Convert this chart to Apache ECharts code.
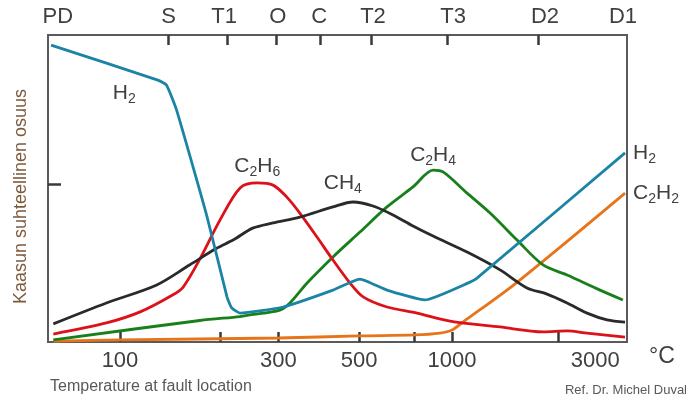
<!DOCTYPE html>
<html>
<head>
<meta charset="utf-8">
<script src="https://cdn.jsdelivr.net/npm/echarts@6/dist/echarts.min.js"></script>
<style>
html,body{margin:0;padding:0;background:#fff;}
#chart{width:693px;height:400px;}
</style>
</head>
<body>
<div id="chart"></div>
<script>
// lämpötila (°C) ja suhteellinen osuus (0-100) luettu kuvasta
var h2T = [62, 130, 138, 148, 183, 210, 217, 230, 310, 438, 528, 637, 829, 1133, 1189, 3320];
var h2V = [96.7, 85.3, 83.7, 75.6, 40.7, 14.7, 11.1, 9.4, 11.4, 16.9, 20.5, 16.9, 13.7, 19.5, 20.8, 61.6];

var ch4T = [63, 91, 129, 162, 196, 219, 251, 289, 348, 438, 503, 578, 664, 763, 877, 1110, 1395, 1682, 1933, 2221, 2551, 2930, 3320];
var ch4V = [5.9, 12.7, 18.6, 25.1, 30.6, 33.2, 37.1, 38.8, 40.7, 44.0, 45.6, 44.3, 41.4, 37.8, 34.5, 29.3, 23.5, 17.6, 15.6, 12.7, 9.4, 7.2, 6.5];

var c2h6T = [63, 91, 115, 144, 155, 174, 200, 230, 259, 289, 318, 348, 392, 438, 493, 540, 637, 785, 986, 1395, 1880, 2221, 2551, 3320];
var c2h6V = [2.6, 6.2, 9.8, 15.3, 17.9, 27.0, 39.7, 50.2, 51.8, 51.1, 47.2, 42.0, 34.2, 26.7, 19.2, 14.7, 11.4, 9.4, 6.8, 4.9, 3.3, 3.6, 2.9, 1.6];

var c2h4T = [63, 174, 230, 246, 303, 325, 366, 438, 528, 637, 763, 877, 940, 1110, 1302, 1570, 1880, 2221, 2791, 3270];
var c2h4V = [0.7, 7.0, 8.3, 8.8, 10.4, 12.7, 19.2, 27.7, 35.8, 44.0, 50.5, 56.0, 55.4, 48.5, 42.0, 33.2, 25.1, 21.8, 16.9, 13.7];

var c2h2T = [63, 100, 300, 525, 774, 920, 1000, 1079, 1559, 3320];
var c2h2V = [0.3, 0.7, 1.3, 2.0, 2.3, 2.9, 3.9, 6.5, 19.2, 48.5];

// akselit
var xMin = 60.7, xMax = 3365;
var xTicks = [100, 200, 300, 525, 770, 1000, 2090];
var xLabelAt = [100, 300, 525, 1000, 2700];
var xLabels = ['100', '300', '500', '1000', '3000'];
var topTicks = [140, 211, 295, 400, 570, 966, 1816];
var topLabelAt = [65, 140, 206, 299, 398, 578, 1007, 1906, 3273];
var topLabels = ['PD', 'S', 'T1', 'O', 'C', 'T2', 'T3', 'D2', 'D1'];
var yTick = [51.5];

var FONT = 'Liberation Sans, Arial, sans-serif';
var TXT = '#404040';

function lg(t){ return Math.log10(t); }
function pairs(ts, vs){
	var out = [];
	for(var i=0;i<ts.length;i++){ out.push([lg(ts[i]), vs[i]]); }
	return out;
}
function pick(list, texts){
	return function(v){
		for(var i=0;i<list.length;i++){
			if(Math.abs(lg(list[i]) - v) < 1e-6) return texts[i];
		}
		return '';
	};
}
var rich = {
	n:{fontSize:21, color:TXT, fontFamily:FONT, lineHeight:26},
	s:{fontSize:14, color:TXT, fontFamily:FONT, lineHeight:26, verticalAlign:'bottom', padding:[7,0,0,0]}
};
function tag(t, v, text){
	return {
		symbol:'circle', symbolSize:0, silent:true,
		data:[{coord:[lg(t), v]}],
		label:{show:true, position:'inside', formatter:text, rich:rich}
	};
}
function line(name, ts, vs, color, smooth){
	return {
		name:name, type:'line', data:pairs(ts, vs), showSymbol:false, smooth:smooth,
		lineStyle:{color:color, width:2.8}, itemStyle:{color:color}
	};
}

var sH2 = line('H2', h2T, h2V, '#1b84a6', 0.15);
sH2.markPoint = tag(103, 81, '{n|H}{s|2}');
sH2.endLabel = {show:true, distance:8, formatter:'{n|H}{s|2}', rich:rich};
var sCH4 = line('CH4', ch4T, ch4V, '#2a2a2a', 0.3);
sCH4.markPoint = tag(469, 51.8, '{n|CH}{s|4}');
var sC2H6 = line('C2H6', c2h6T, c2h6V, '#dc1119', 0.3);
sC2H6.markPoint = tag(259, 57.3, '{n|C}{s|2}{n|H}{s|6}');
var sC2H4 = line('C2H4', c2h4T, c2h4V, '#17801b', 0.3);
sC2H4.markPoint = tag(877, 60.9, '{n|C}{s|2}{n|H}{s|4}');
var sC2H2 = line('C2H2', c2h2T, c2h2V, '#e8741a', 0.3);
sC2H2.endLabel = {show:true, distance:8, formatter:'{n|C}{s|2}{n|H}{s|2}', rich:rich};

var myChart = echarts.init(document.getElementById('chart'));
var option = {
	animation:false,
	grid:{left:48, right:66, top:35, bottom:58, show:true, borderColor:'#5a5a5a', borderWidth:2},
	xAxis:[{
		type:'value', position:'bottom', min:lg(xMin), max:lg(xMax),
		axisLine:{show:false}, splitLine:{show:false},
		axisTick:{show:true, inside:true, length:10, customValues:xTicks.map(lg), lineStyle:{color:'#3a3a3a', width:2.5}},
		axisLabel:{show:true, margin:8, fontSize:22, color:TXT, fontFamily:FONT, customValues:xLabelAt.map(lg), formatter:pick(xLabelAt, xLabels)},
		name:'°C', nameLocation:'end', nameGap:22,
		nameTextStyle:{fontSize:23, color:TXT, fontFamily:FONT, verticalAlign:'top', padding:[3,0,0,0]}
	},{
		type:'value', position:'top', min:lg(xMin), max:lg(xMax),
		axisLine:{show:false}, splitLine:{show:false},
		axisTick:{show:true, inside:true, length:10, customValues:topTicks.map(lg), lineStyle:{color:'#3a3a3a', width:2.5}},
		axisLabel:{show:true, margin:7, fontSize:22, color:TXT, fontFamily:FONT, customValues:topLabelAt.map(lg), formatter:pick(topLabelAt, topLabels)}
	}],
	yAxis:[{
		type:'value', min:0, max:100,
		axisLine:{show:false}, splitLine:{show:false},
		axisTick:{show:true, inside:true, length:13, customValues:yTick, lineStyle:{color:'#3a3a3a', width:2.5}},
		axisLabel:{show:false},
		name:'Kaasun suhteellinen osuus', nameLocation:'middle', nameGap:18,
		nameTextStyle:{fontSize:18, color:'#7d5a3c', fontFamily:FONT, padding:[0,16,0,0]}
	}],
	graphic:[
		{type:'text', left:50, top:379, style:{text:'Temperature at fault location', fontSize:16, fill:'#595959', fontFamily:FONT}},
		{type:'text', right:6, top:384, style:{text:'Ref. Dr. Michel Duval', fontSize:13, fill:'#595959', fontFamily:FONT}}
	],
	series:[sC2H2, sC2H4, sC2H6, sCH4, sH2]
};
myChart.setOption(option);
</script>
</body>
</html>
